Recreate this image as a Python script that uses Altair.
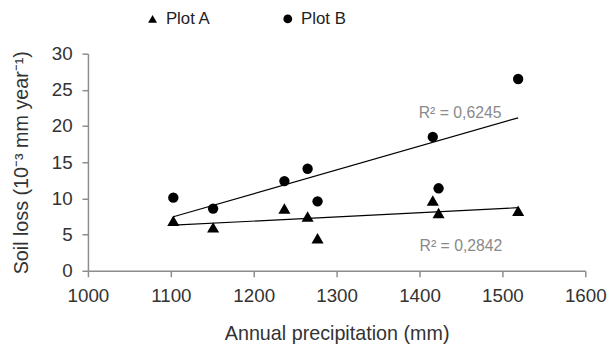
import altair as alt
import pandas as pd

precip = [1103, 1151, 1237, 1265, 1277, 1416, 1423, 1519]
plot_a = [6.9, 6.0, 8.6, 7.5, 4.5, 9.7, 8.0, 8.3]
plot_b = [10.1, 8.6, 12.4, 14.1, 9.6, 18.5, 11.4, 26.5]
series = ["Plot A", "Plot B"]
r2_labels = ["R² = 0,6245", "R² = 0,2842"]
r2_x = [1449, 1450]
r2_y = [21.8, 3.4]
x_ticks = [1000, 1100, 1200, 1300, 1400, 1500, 1600]
y_ticks = [0, 5, 10, 15, 20, 25, 30]

rows = []
for p, a, b in zip(precip, plot_a, plot_b):
    rows.append({"precip": p, "loss": a, "plot": series[0]})
    rows.append({"precip": p, "loss": b, "plot": series[1]})
df = pd.DataFrame(rows)
ann = pd.DataFrame({"precip": r2_x, "loss": r2_y, "label": r2_labels})

font = "Liberation Sans"
xs = alt.Scale(domain=[1000, 1600], nice=False, zero=False)
ys = alt.Scale(domain=[0, 30], nice=False)

x_enc = alt.X("precip:Q", scale=xs,
              axis=alt.Axis(title="Annual precipitation (mm)", values=x_ticks, format="d",
                            grid=False, labelFlush=False, labelOverlap=False,
                            labelPadding=10, titlePadding=19))
y_enc = alt.Y("loss:Q", scale=ys,
              axis=alt.Axis(title="Soil loss (10⁻³ mm year⁻¹)", values=y_ticks, grid=False,
                            labelFlush=False, labelOverlap=False,
                            labelPadding=10, titlePadding=20))

shape_enc = alt.Shape("plot:N",
                      scale=alt.Scale(domain=series, range=["triangle-up", "circle"]),
                      legend=alt.Legend(title=None, orient="none", legendX=57, legendY=-44,
                                        direction="horizontal", columnPadding=69,
                                        labelFontSize=17, labelFont=font, symbolFillColor="black",
                                        symbolStrokeColor="black", symbolSize=80, labelColor="#222222",
                                        labelOffset=5))

points_a = alt.Chart(df).transform_filter(alt.datum.plot == series[0]).mark_point(
    filled=True, opacity=1, color="black", size=150
).encode(x=x_enc, y=y_enc, shape=shape_enc)

points_b = alt.Chart(df).transform_filter(alt.datum.plot == series[1]).mark_point(
    filled=True, opacity=1, color="black", size=110
).encode(x=x_enc, y=y_enc, shape=shape_enc)

lines = alt.Chart(df).transform_regression(
    "precip", "loss", groupby=["plot"], extent=[min(precip), max(precip)]
).mark_line(color="black", strokeWidth=1.2).encode(
    x=x_enc,
    y=y_enc,
    detail="plot:N",
)

texts = alt.Chart(ann).mark_text(color="#8a8a8a", fontSize=16, font=font).encode(
    x=x_enc,
    y=y_enc,
    text="label:N",
)

chart = alt.layer(lines, points_a, points_b, texts).properties(
    width=504, height=220,
    autosize=alt.AutoSizeParams(type="none"),
    padding={"left": 81, "top": 44, "right": 23, "bottom": 80},
).configure_view(stroke=None).configure_axis(
    domainColor="#8c8c8c", tickColor="#8c8c8c", domainWidth=1.5, tickWidth=1.5, tickSize=6,
    labelFont=font, titleFont=font, labelFontSize=19, titleFontSize=20,
    labelColor="#333333", titleColor="#333333", titleFontWeight="normal",
)

chart.save("out.html", embed_options={"renderer": "svg", "actions": False})
